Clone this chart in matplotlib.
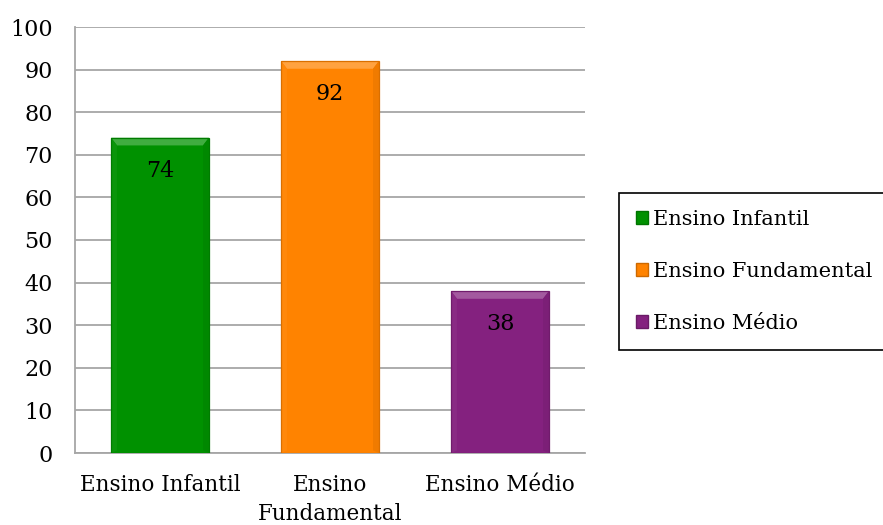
import matplotlib
matplotlib.use("Agg")
import matplotlib.pyplot as plt
from matplotlib.patches import Polygon, Rectangle
import matplotlib.colors as mc
import numpy as np

categories = ["Ensino Infantil", "Ensino\nFundamental", "Ensino Médio"]
legend_labels = ["Ensino Infantil", "Ensino Fundamental", "Ensino Médio"]
values = [74, 92, 38]
colors = ["#009100", "#FF8300", "#84217F"]
yticks = [0, 10, 20, 30, 40, 50, 60, 70, 80, 90, 100]

plt.rcParams['font.family'] = ['DejaVu Serif']

fig = plt.figure(figsize=(8.83, 5.25), dpi=100)
ax = fig.add_axes([75/883, 1 - 453/525, (585-75)/883, (453-27)/525])

x = np.arange(len(values))
width = 0.575
bars = ax.bar(x, values, width=width, color=colors, edgecolor=None, zorder=3)

def lighten(c, f):
    r, g, b = mc.to_rgb(c)
    return (r + (1-r)*f, g + (1-g)*f, b + (1-b)*f)

def darken(c, f):
    r, g, b = mc.to_rgb(c)
    return (r*(1-f), g*(1-f), b*(1-f))

for b, c, v in zip(bars, colors, values):
    x0 = b.get_x(); w = b.get_width(); top = b.get_height()
    bw = w * 0.06
    bh = 1.8
    # top bevel
    ax.add_patch(Polygon([[x0, top], [x0+w, top], [x0+w-bw, top-bh], [x0+bw, top-bh]],
                         closed=True, facecolor=lighten(c, 0.25), edgecolor='none', zorder=4))
    # side bevels
    ax.add_patch(Polygon([[x0, top], [x0+bw, top-bh], [x0+bw, 0.6], [x0, 0]],
                         closed=True, facecolor=lighten(c, 0.04), edgecolor='none', zorder=4))
    ax.add_patch(Polygon([[x0+w, top], [x0+w-bw, top-bh], [x0+w-bw, 0.6], [x0+w, 0]],
                         closed=True, facecolor=darken(c, 0.06), edgecolor='none', zorder=4))
    ax.add_patch(Rectangle((x0, 0), w, top, fill=False, edgecolor=darken(c, 0.15),
                           linewidth=0.9, zorder=5))
    ax.text(b.get_x() + w/2, top - 7.7, str(v), ha='center', va='center',
            fontsize=16, color='black', zorder=6)

ax.set_xlim(-0.5, len(values) - 0.5)
ax.set_ylim(0, 100)
ax.set_yticks(yticks)
ax.set_yticklabels([str(t) for t in yticks], fontsize=16)
ax.set_xticks(x)
ax.set_xticklabels(categories, fontsize=15.5, linespacing=1.4)
ax.tick_params(axis='x', length=0, pad=15)
ax.tick_params(axis='y', length=0, pad=16)
ax.yaxis.grid(True, color='#a6a6a6', linewidth=1.3, zorder=0)
for s in ['top', 'right']:
    ax.spines[s].set_visible(False)
for s in ['left', 'bottom']:
    ax.spines[s].set_color('#a6a6a6')
    ax.spines[s].set_linewidth(1.3)

handles = [Rectangle((0, 0), 1, 1, facecolor=c, edgecolor=darken(c, 0.2)) for c in colors]
leg = fig.legend(handles, legend_labels, loc='upper left',
                 bbox_to_anchor=(619/883, 1 - 193/525), fontsize=15,
                 frameon=True, fancybox=False, framealpha=1, handlelength=0.55,
                 handleheight=0.55, handletextpad=0.25, labelspacing=1.58,
                 borderpad=0.82, borderaxespad=0)
leg.get_frame().set_edgecolor('black')
leg.get_frame().set_linewidth(1.2)

fig.savefig("out.png", dpi=100)
